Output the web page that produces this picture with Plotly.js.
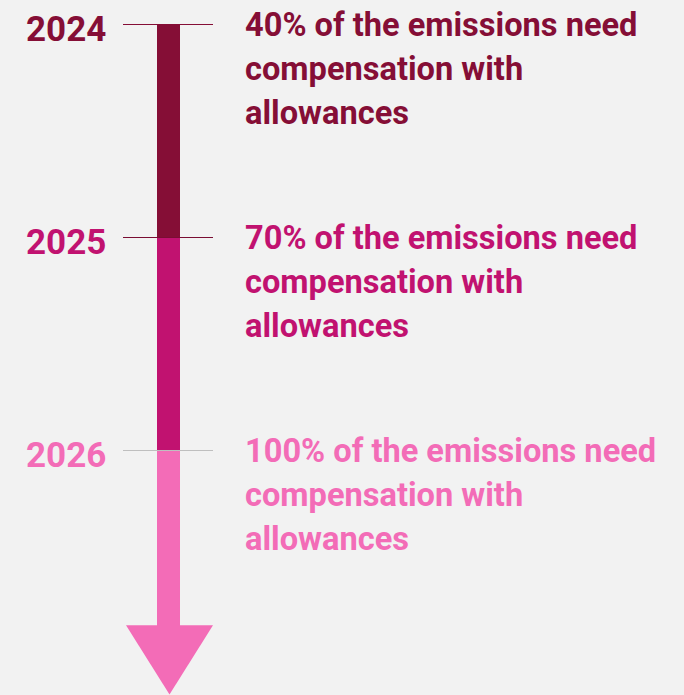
<!DOCTYPE html>
<html>
<head>
<meta charset="utf-8">
<script src="https://cdn.plot.ly/plotly-3.0.1.min.js"></script>
<style>
html,body{margin:0;padding:0;background:#f2f2f2;}
#chart{width:684px;height:695px;}
</style>
</head>
<body>
<div id="chart"></div>
<script>
// ---- data ----
const years = [2024, 2025, 2026];
const segmentEnds = [2025, 2026, 2026.826];
const arrowTip = 2027.146;
const yearLabels = ["2024", "2025", "2026"];
const descriptionLines = [
  ["40% of the emissions need", "compensation with", "allowances"],
  ["70% of the emissions need", "compensation with", "allowances"],
  ["100% of the emissions need", "compensation with", "allowances"]
];

// ---- styles ----
const segColors = ["#850e36", "#c11270", "#f36cb7"];
const tickColors = ["#850e36", "#7a0d33", "#bfbfbf"];
const barX = 168.5, barW = 23;
const font = {family: "Roboto, 'Open Sans', sans-serif", weight: 700};

const bar = {
  type: "bar",
  x: years.map(() => barX),
  base: years,
  y: years.map((y, i) => segmentEnds[i] - y),
  width: years.map(() => barW),
  marker: {color: segColors, line: {width: 0}},
  hoverinfo: "skip",
  showlegend: false
};

// arrow head overlaps the last bar by a hair to avoid a seam
const last = segmentEnds[segmentEnds.length - 1];
const headTop = last - 0.006;
const arrow = {
  type: "scatter",
  mode: "lines",
  x: [126, 213, 169.5, 126],
  y: [headTop, headTop, arrowTip, headTop],
  fill: "toself",
  fillcolor: segColors[2],
  line: {width: 0, color: segColors[2]},
  hoverinfo: "skip",
  showlegend: false
};

const shapes = years.map((y, i) => ({
  type: "line", xref: "x", yref: "y",
  x0: 123, x1: 213, y0: y, y1: y,
  line: {color: tickColors[i], width: 1},
  layer: "above"
}));

const annotations = [];
years.forEach((y, i) => {
  annotations.push({
    x: 108, y: y, xref: "x", yref: "y",
    xanchor: "right", yanchor: "middle", yshift: -5,
    text: yearLabels[i], showarrow: false,
    font: Object.assign({size: 35, color: segColors[i]}, font)
  });
  descriptionLines[i].forEach((line, j) => {
    annotations.push({
      x: 243, y: y, xref: "x", yref: "y",
      xanchor: "left", yanchor: "top", yshift: 21 - 44 * j, align: "left",
      text: line, showarrow: false,
      font: Object.assign({size: 32.6, color: segColors[i]}, font)
    });
  });
});

const layout = {
  width: 684, height: 695,
  margin: {l: 0, r: 0, t: 0, b: 0, pad: 0},
  paper_bgcolor: "#f2f2f2", plot_bgcolor: "#f2f2f2",
  xaxis: {range: [0, 684], visible: false, fixedrange: true},
  yaxis: {range: [2027.14789, 2023.88498], visible: false, fixedrange: true},
  bargap: 0,
  shapes: shapes,
  annotations: annotations,
  showlegend: false
};

Plotly.newPlot("chart", [bar, arrow], layout, {displayModeBar: false, staticPlot: true});
</script>
</body>
</html>
